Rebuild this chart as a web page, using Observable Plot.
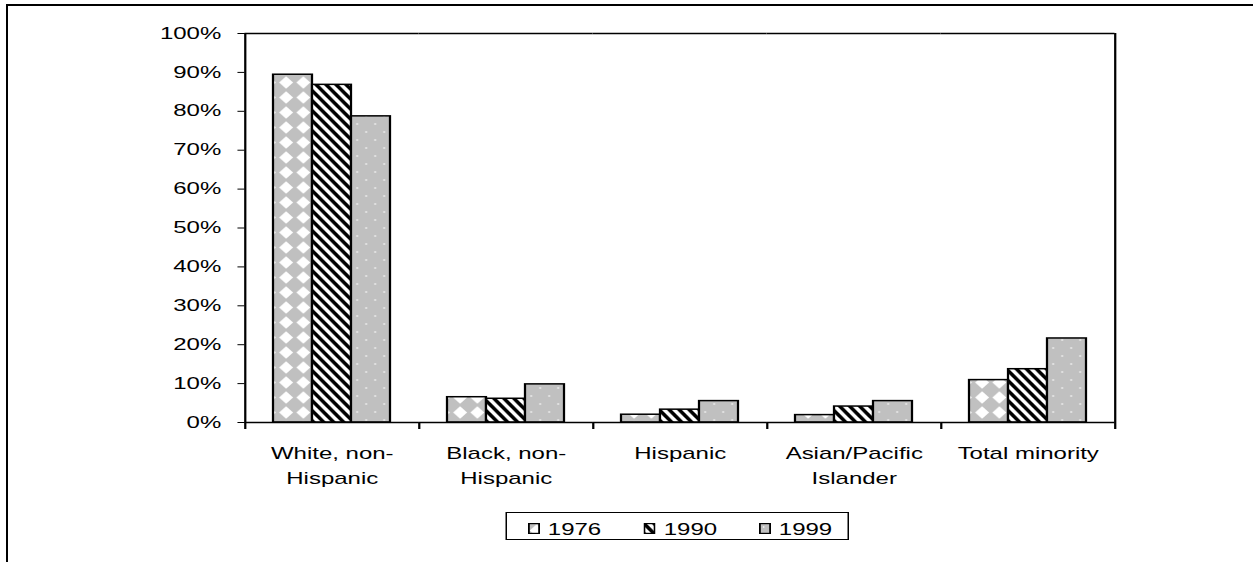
<!DOCTYPE html>
<html>
<head>
<meta charset="utf-8">
<script src="https://cdn.jsdelivr.net/npm/d3@7"></script>
<script src="https://cdn.jsdelivr.net/npm/@observablehq/plot@0.6"></script>
<style>
  html, body { margin: 0; padding: 0; background: #fff; width: 1253px; height: 562px; overflow: hidden; }
  #page { position: relative; width: 1253px; height: 562px; font-family: Arial, "Liberation Sans", sans-serif; }
  #frame { position: absolute; left: 6px; top: 4px; width: 1300px; height: 620px; border-top: 2px solid #000; border-left: 2px solid #000; }
  /* the chart is laid out at 2/3 width and stretched horizontally */
  #stretch { position: absolute; left: 0; top: 0; width: 835px; height: 562px; transform: scaleX(1.5); transform-origin: 0 0; }
  #legend { position: absolute; left: 336.7px; top: 512px; width: 227px; height: 26px; border: 1.5px solid #000; background: #fff; }
  .item { position: absolute; top: 8.5px; font-size: 16px; line-height: 16px; color: #000; }
  .swatch { position: absolute; top: 10px; }
</style>
</head>
<body>
<svg width="0" height="0" style="position:absolute">
  <defs>
    <pattern id="pat1976" patternUnits="userSpaceOnUse" width="11.5" height="15">
      <rect width="11.5" height="15" fill="#c0c0c0"></rect>
      <polygon points="5.75,1.2 10.4,7.5 5.75,13.8 1.1,7.5" fill="#fff"></polygon>
    </pattern>
    <pattern id="pat1990" patternUnits="userSpaceOnUse" width="6.667" height="10">
      <rect width="6.667" height="10" fill="#fff"></rect>
      <polygon points="0,-12.5 6.667,-2.5 6.667,2.5 0,-7.5" fill="#000"></polygon>
      <polygon points="0,-2.5 6.667,7.5 6.667,12.5 0,2.5" fill="#000"></polygon>
      <polygon points="0,7.5 6.667,17.5 6.667,22.5 0,12.5" fill="#000"></polygon>
    </pattern>
    <pattern id="pat1999" patternUnits="userSpaceOnUse" width="12" height="16">
      <rect width="12" height="16" fill="#c0c0c0"></rect>
      <rect x="2.6" y="3.3" width="1" height="1.4" fill="#fff"></rect>
      <rect x="8.6" y="11.3" width="1" height="1.4" fill="#fff"></rect>
    </pattern>
  </defs>
</svg>
<div id="page">
  <div id="frame"></div>
  <div id="stretch">
    <div id="chart"></div>
    <div id="legend"></div>
  </div>
</div>
<script>
// Share of enrollment by race/ethnicity, percent
const categories = ["White, non-Hispanic", "Black, non-Hispanic", "Hispanic", "Asian/Pacific Islander", "Total minority"];
const labelLine1 = ["White, non-", "Black, non-", "Hispanic", "Asian/Pacific", "Total minority"];
const labelLine2 = ["Hispanic", "Hispanic", "", "Islander", ""];
const years = ["1976", "1990", "1999"];
const share1976 = [89.4, 6.5, 2.0, 1.9, 10.9];
const share1990 = [86.8, 6.1, 3.3, 4.1, 13.7];
const share1999 = [78.7, 9.8, 5.5, 5.5, 21.6];
const yTicks = [0, 10, 20, 30, 40, 50, 60, 70, 80, 90, 100];

const seriesByYear = [share1976, share1990, share1999];
const rows = categories.flatMap((category, i) =>
  years.map((year, j) => ({category, year, share: seriesByYear[j][i]}))
);
const labels = categories.map((category, i) => ({category, l1: labelLine1[i], l2: labelLine2[i]}));

const width = 835, height = 500;
const marginLeft = 162, marginRight = 91, marginTop = 33, marginBottom = 78;
const barPad = 0.72;
const facetWidth = (width - marginLeft - marginRight) / categories.length;
const step = facetWidth / (years.length + 2 * barPad);
const edgeOffset = step * (barPad + 0.5); // from a bar's centre to the group edge
const lineW = 1.5;

const chart = Plot.plot({
  width, height, marginLeft, marginRight, marginTop, marginBottom,
  style: {fontFamily: "Arial, 'Liberation Sans', sans-serif", fontSize: "16px", color: "#000", background: "transparent", overflow: "visible"},
  fx: {domain: categories, padding: 0, axis: null, label: null},
  x: {domain: years, paddingInner: 0, paddingOuter: barPad, axis: null, label: null},
  y: {domain: [0, 100], ticks: yTicks, tickFormat: d => d + "%", tickSize: 4.7, tickPadding: 11.3, label: null},
  marks: [
    Plot.barY(rows, {fx: "category", x: "year", y: "share", fill: d => "url(#pat" + d.year + ")", stroke: "#000", strokeWidth: lineW}),
    Plot.ruleY([0, 100], {stroke: "#000", strokeWidth: lineW}),
    Plot.ruleX(categories, {fx: d => d, x: () => years[0], dx: -edgeOffset, y1: 0, y2: -1.8, stroke: "#000", strokeWidth: lineW}),
    Plot.ruleX([categories[0]], {fx: d => d, x: () => years[0], dx: -edgeOffset, y1: 100, y2: 0, stroke: "#000", strokeWidth: lineW}),
    Plot.ruleX([categories[categories.length - 1]], {fx: d => d, x: () => years[years.length - 1], dx: edgeOffset, y1: 100, y2: -1.8, stroke: "#000", strokeWidth: lineW}),
    Plot.text(labels, {fx: "category", text: "l1", frameAnchor: "bottom", dy: 36, fill: "#000"}),
    Plot.text(labels, {fx: "category", text: "l2", frameAnchor: "bottom", dy: 61, fill: "#000"})
  ]
});
document.getElementById("chart").appendChild(chart);

// Legend below the chart
const legend = d3.select("#legend");
const swatchX = [14, 91.3, 168];
years.forEach((year, j) => {
  const s = legend.append("svg").attr("class", "swatch").attr("width", 8).attr("height", 11)
    .style("left", swatchX[j] + "px");
  s.append("rect").attr("x", 0.6).attr("y", 0.6).attr("width", 6.8).attr("height", 9.8)
    .attr("fill", "url(#pat" + year + ")").attr("stroke", "#000").attr("stroke-width", 1.2);
  legend.append("div").attr("class", "item").style("left", (swatchX[j] + 13.5) + "px").text(year);
});
</script>
</body>
</html>
